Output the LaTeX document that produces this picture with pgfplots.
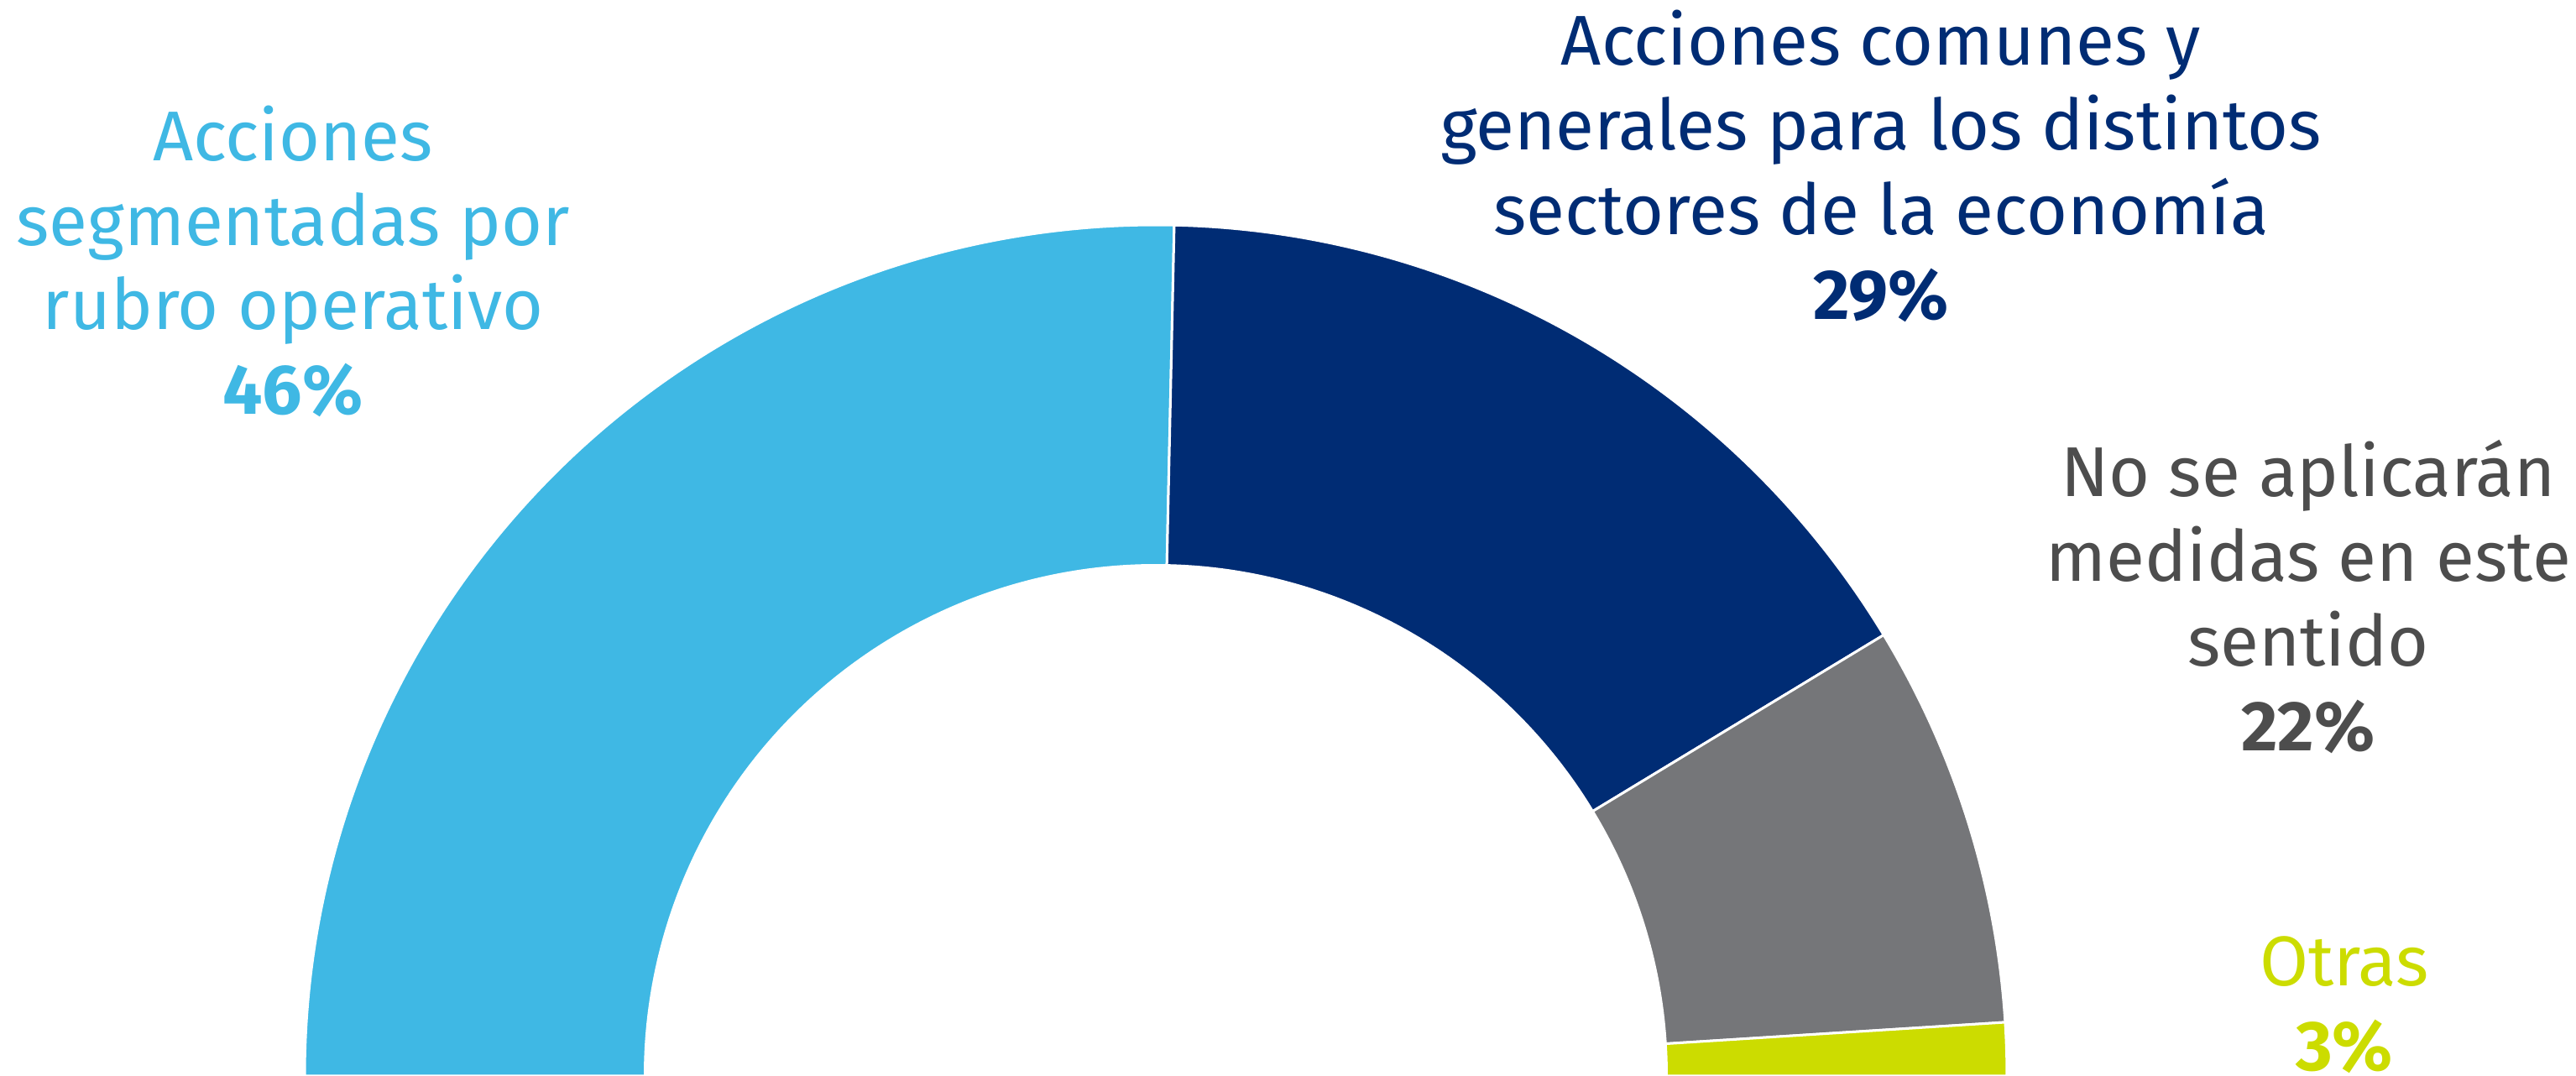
\documentclass[border=0pt]{standalone}
\usepackage{pgfplots}
\pgfplotsset{compat=1.18}
\usepackage{pgfplotstable}
\usepackage{fontspec}
\setmainfont{Fira Sans}

\definecolor{cLB}{HTML}{3FB8E4}
\definecolor{cDB}{HTML}{002C74}
\definecolor{cGR}{HTML}{757679}
\definecolor{cGN}{HTML}{CCDC00}
\definecolor{tGR}{HTML}{4D4D4D}

% pct = printed value, arc = share of the half ring as drawn
\pgfplotstableread{
pct arc   col
46  50.69 cLB
29  31.97 cDB
22  15.33 cGR
3   2.01  cGN
}\piedata

\def\Ro{202.8pt}
\def\Ri{121.7pt}
\newcommand\lbl[4]{\node[anchor=base, text=#3, inner sep=0pt,
  font=\fontsize{16.8pt}{20pt}\selectfont] at (axis cs:#1,#2) {#4};}

\begin{document}
\begin{tikzpicture}
\begin{axis}[
    at={(0,0)}, anchor=south west,
    scale only axis,
    width=613.8pt, height=256.4pt,
    xmin=-1377, xmax=1692,
    ymin=0, ymax=1282,
    hide axis,
    clip=false,
  ]
\def\angA{180}
\pgfplotsinvokeforeach{0,...,3}{
  \pgfplotstablegetelem{#1}{arc}\of\piedata
  \pgfmathsetmacro\angB{\angA-1.8*\pgfplotsretval}
  \pgfplotstablegetelem{#1}{col}\of\piedata
  \edef\sector{\noexpand\fill[\pgfplotsretval, draw=white, line width=0.6pt]
    ([shift={(axis cs:0,0)}]\angA:\Ro) arc[start angle=\angA, end angle=\angB, radius=\Ro]
    -- ([shift={(axis cs:0,0)}]\angB:\Ri) arc[start angle=\angB, end angle=\angA, radius=\Ri]
    -- cycle;}
  \sector
  \global\let\angA\angB
}

\lbl{-1028}{1090}{cLB}{Acciones}
\lbl{-1028}{989}{cLB}{segmentadas por}
\lbl{-1028}{889}{cLB}{rubro operativo}
\lbl{-1028}{788}{cLB}{\bfseries 46\%}

\lbl{864}{1204}{cDB}{Acciones comunes y}
\lbl{864}{1103}{cDB}{generales para los distintos}
\lbl{864}{1002}{cDB}{sectores de la economía}
\lbl{864}{901}{cDB}{\bfseries 29\%}

\lbl{1373}{690}{tGR}{No se aplicarán}
\lbl{1373}{589}{tGR}{medidas en este}
\lbl{1373}{488}{tGR}{sentido}
\lbl{1373}{387}{tGR}{\bfseries 22\%}

\lbl{1416}{107}{cGN}{Otras}
\lbl{1416}{6}{cGN}{\bfseries 3\%}
\end{axis}
\pgfresetboundingbox
\path[use as bounding box] (0,0) rectangle (613.8pt,256.4pt);
\end{tikzpicture}
\end{document}
